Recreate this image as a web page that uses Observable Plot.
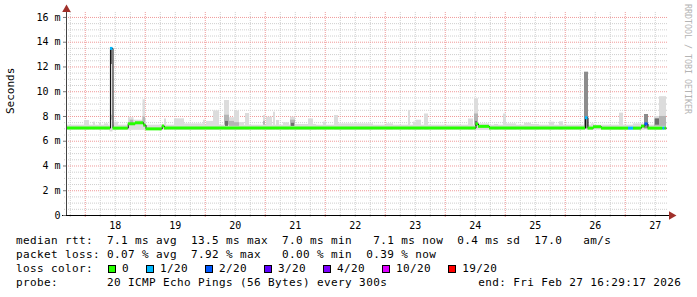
<!DOCTYPE html>
<html><head><meta charset="utf-8">
<script src="https://cdn.jsdelivr.net/npm/d3@7"></script>
<script src="https://cdn.jsdelivr.net/npm/@observablehq/plot@0.6"></script>
<style>
body{margin:0;background:#fff;}
#wrap{position:relative;width:697px;height:297px;overflow:hidden;background:#fff;}
#legend{position:absolute;left:16px;top:234px;font-family:"DejaVu Sans Mono",monospace;font-size:11px;letter-spacing:0.38px;line-height:14px;white-space:pre;color:#000;}
.row{display:flex;align-items:center;height:14px;}
.box{display:inline-block;width:6px;height:6px;border:1px solid #000;margin-left:0;}
.lab{margin-left:6px;margin-right:17px;}
#wm{position:absolute;left:683px;top:4px;writing-mode:vertical-rl;font-family:"DejaVu Sans Mono",monospace;font-size:8.3px;color:#b4b4b4;white-space:pre;}
</style></head><body>
<div id="wrap"><div id="chart"></div><div id="legend"></div><div id="wm">RRDTOOL / TOBI OETIKER</div></div>
<script>
// ---- data ----
const endTime = "2026-02-27T16:29:17Z";
const spanHours = 240;
const dayLabels = [18, 19, 20, 21, 22, 23, 24, 25, 26, 27];
const yTickValues = [0, 2, 4, 6, 8, 10, 12, 14, 16];

// median rtt (ms), step series: hours since start, value, loss
const medianHour  = [0, 17.6, 18.6, 24.7, 27.6, 30.9, 31.8, 38.3, 39.2, 163.8, 164.8, 169.2, 207.6, 208.6, 210.8, 214, 224.8, 226.8, 230, 231.4, 232.6, 238.6, 239.4];
const medianValue = [7.06, 13.5, 7.06, 7.41, 7.49, 7.3, 7.0, 7.23, 7.06, 7.4, 7.2, 7.06, 7.9, 7.06, 7.17, 7.06, 7.06, 7.06, 7.22, 7.4, 7.06, 7.06, 7.06];
const medianLoss  = ["0", "1/20", "0", "0", "0", "0", "0", "0", "0", "0", "0", "0", "1/20", "0", "0", "0", "1/20", "0", "0", "2/20", "0", "1/20", "0"];

// smoke (ping spread): hours since start, ms range, density class
const smokeStart = [0, 7.2, 10.8, 13.2, 15.2, 17.4, 17.6, 17.6, 19.2, 24.8, 25.5, 27, 30.4, 30.6, 30.6, 39.2, 43.2, 47.2, 54.8, 56, 58.8, 63.2, 63.2, 63.6, 65.2, 65.2, 67.2, 67.2, 69.2, 71.6, 78.8, 78.8, 80, 82.8, 84, 86.8, 89.6, 89.6, 90, 91.6, 96.8, 102.8, 107.2, 108.8, 120, 128, 136.8, 138.8, 140, 143.2, 160.8, 163.2, 163.2, 163.6, 164.8, 171.2, 174.8, 176, 183.2, 186, 193.2, 197.2, 207.2, 210, 221.2, 226.8, 231.2, 235.2, 235.2, 235.6, 237.2, 237.2];
const smokeEnd   = [240, 9.2, 11.6, 14, 16.8, 18.6, 18.4, 18.4, 20.8, 27, 27, 30.4, 32, 31.6, 31.6, 40, 47.2, 54.8, 55.6, 58.8, 61.2, 65.2, 65.2, 64.8, 67.2, 67.2, 69.2, 69.2, 71.2, 73.2, 79.6, 79.6, 82.4, 83.6, 85.2, 89.2, 91.6, 91.6, 91.2, 100, 98.8, 104, 108.8, 120, 122.8, 130.8, 137.6, 140, 142, 144.8, 162.8, 164.8, 164.8, 164.4, 169.2, 172.8, 176, 180, 186, 189.2, 195.2, 198.8, 208.8, 211.2, 222.8, 231.2, 232.8, 237.2, 237.2, 237.2, 240, 240];
const smokeLow   = [6.9, 6.9, 6.9, 6.9, 6.9, 6.75, 12.2, 7.7, 6.9, 6.9, 7.3, 6.9, 6.9, 7.5, 7.5, 6.9, 6.9, 6.9, 6.9, 6.9, 6.9, 6.9, 7.3, 7.2, 6.9, 7.2, 6.9, 7.2, 6.9, 6.9, 6.9, 7.3, 6.9, 6.9, 6.9, 6.9, 6.9, 7.2, 7.2, 6.9, 6.9, 6.9, 6.9, 6.9, 6.9, 6.9, 6.9, 6.9, 6.9, 6.9, 6.9, 6.9, 7.3, 7.2, 6.9, 6.9, 6.9, 6.9, 6.9, 6.9, 6.9, 6.9, 7.0, 6.9, 6.9, 6.9, 7.0, 6.9, 7.2, 7.3, 6.9, 7.2];
const smokeHigh  = [7.3, 7.68, 7.54, 7.46, 7.4, 13.55, 13.4, 8.1, 7.54, 7.9, 7.7, 7.7, 7.8, 9.35, 7.95, 7.8, 7.81, 7.4, 7.7, 7.6, 8.45, 9.29, 8.1, 7.6, 7.9, 7.6, 8.44, 7.5, 7.5, 8.24, 8.08, 7.6, 7.94, 8.35, 7.68, 7.49, 7.94, 7.7, 7.45, 7.35, 7.8, 7.55, 8.08, 7.4, 7.4, 7.4, 8.48, 7.55, 7.7, 8.2, 7.8, 9.43, 8.2, 7.6, 7.4, 7.35, 8.2, 7.4, 7.46, 7.35, 7.54, 7.57, 11.58, 7.4, 8.27, 7.4, 8.16, 8.0, 7.8, 7.8, 9.6, 8.0];
const smokeShade = ["light", "light", "light", "light", "light", "light", "dark", "mid", "light", "light", "mid", "light", "light", "light", "mid", "light", "light", "light", "light", "light", "light", "light", "mid", "dark", "light", "mid", "light", "mid", "light", "light", "light", "mid", "light", "light", "light", "light", "light", "mid", "dark", "light", "light", "light", "light", "light", "light", "light", "light", "light", "light", "light", "light", "light", "mid", "dark", "light", "light", "light", "light", "light", "light", "light", "light", "spike", "light", "light", "light", "spike", "light", "mid", "dark", "light", "mid"];

const lossLevels = ["0", "1/20", "2/20", "3/20", "4/20", "10/20", "19/20"];
const lossColors = ["#26ff00", "#00b8ff", "#0059ff", "#5e00ff", "#7e00ff", "#dd00ff", "#ff0000"];
const shadeLevels = ["light", "mid", "dark", "spike"];
const shadeColors = ["#dcdcdc", "#b4b4b4", "#6e6e6e", "#8c8c8c"];

const statsLines = [
  "median rtt:  7.1 ms avg  13.5 ms max  7.0 ms min   7.1 ms now  0.4 ms sd  17.0   am/s",
  "packet loss: 0.07 % avg  7.92 % max   0.00 % min  0.39 % now"
];
const probeLine = "probe:       20 ICMP Echo Pings (56 Bytes) every 300s             end: Fri Feb 27 16:29:17 2026";

// ---- build ----
const end = new Date(endTime);
const start = new Date(+end - spanHours * 3600e3);
const at = h => new Date(+start + h * 3600e3);
const Y = end.getUTCFullYear(), M = end.getUTCMonth();

const smoke = smokeStart.map((s, i) => ({x1: at(s), x2: at(smokeEnd[i]), y1: smokeLow[i], y2: smokeHigh[i], shade: smokeShade[i]}));
const medPts = medianHour.map((h, i) => ({t: at(h), v: medianValue[i]}));
medPts.push({t: end, v: medianValue[medianValue.length - 1]});
const medSegs = medianHour.map((h, i) => ({x1: at(h), x2: at(i + 1 < medianHour.length ? medianHour[i + 1] : spanHours), v: medianValue[i], loss: medianLoss[i]}));

const xMajor = dayLabels.map(d => new Date(Date.UTC(Y, M, d)));
const xLabelPos = dayLabels.map(d => new Date(Date.UTC(Y, M, d, 12)));
const xMinor = d3.utcHour.every(6).range(start, end).filter(d => d.getUTCHours() !== 0);
const yMinor = d3.range(0.5, 16.4, 0.5).filter(v => v % 2 !== 0);
const yMajorGrid = yTickValues.filter(v => v > 0);

const redGrid = {stroke: "#f09a9a", strokeDasharray: "1,1"};
const grayGrid = {stroke: "#cfcfcf", strokeDasharray: "1,1"};

const chart = Plot.plot({
  width: 697, height: 234,
  marginLeft: 66, marginRight: 31, marginTop: 12, marginBottom: 19,
  style: {fontFamily: "'DejaVu Sans Mono', monospace", fontSize: "10px", background: "#fff", color: "#000", overflow: "visible"},
  x: {type: "utc", domain: [start, end]},
  y: {domain: [0, 16.4]},
  color: {type: "ordinal", domain: [...lossLevels, ...shadeLevels], range: [...lossColors, ...shadeColors]},
  marks: [
    Plot.ruleY(yMinor, {...grayGrid, insetLeft: -2, insetRight: -2}),
    Plot.ruleX(xMinor, {...grayGrid, insetBottom: -3}),
    Plot.ruleY(yMajorGrid, {...redGrid, insetRight: -2}),
    Plot.ruleX(xMajor, {...redGrid, insetBottom: -3}),
    Plot.rect(smoke, {x1: "x1", x2: "x2", y1: "y1", y2: "y2", fill: "shade"}),
    Plot.line(medPts, {x: "t", y: "v", curve: "step-after", stroke: "#111", strokeWidth: 1}),
    Plot.ruleY(medSegs, {x1: "x1", x2: "x2", y: "v", stroke: "loss", strokeWidth: 3}),
    Plot.ruleY([0], {stroke: "#000", insetLeft: -4, insetRight: -4}),
    Plot.ruleX([start], {stroke: "#444", insetTop: -2}),
    Plot.axisY(yTickValues, {tickSize: 3, tickPadding: 3, stroke: "#777", tickFormat: v => v ? `${v} m` : "0", label: null, fill: "#000"}),
    Plot.axisX(xLabelPos, {tickSize: 0, tickPadding: 6, tickFormat: d => d.getUTCDate(), label: null, fill: "#000"}),
    Plot.text(["Seconds"], {frameAnchor: "left", rotate: -90, dx: -56, fontSize: 11, fill: "#000"}),
    Plot.dot([end], {x: d => d, y: d => 0, symbol: "triangle", rotate: 90, r: 3.2, dx: 5, fill: "#a0302a", stroke: null}),
    Plot.dot([start], {x: d => d, y: d => 16.4, symbol: "triangle", r: 3.2, dy: -3, fill: "#a0302a", stroke: null})
  ]
});
document.getElementById("chart").appendChild(chart);

// legend text
const leg = document.getElementById("legend");
statsLines.forEach(s => { const r = document.createElement("div"); r.className = "row"; r.textContent = s; leg.appendChild(r); });
const lr = document.createElement("div"); lr.className = "row";
const lt = document.createElement("span"); lt.textContent = "loss color:"; lt.style.marginRight = "15px"; lr.appendChild(lt);
lossLevels.forEach((l, i) => {
  const b = document.createElement("span"); b.className = "box"; b.style.background = lossColors[i]; lr.appendChild(b);
  const t = document.createElement("span"); t.className = "lab"; t.textContent = l; lr.appendChild(t);
});
leg.appendChild(lr);
const pr = document.createElement("div"); pr.className = "row"; pr.textContent = probeLine; leg.appendChild(pr);
</script>
</body></html>
